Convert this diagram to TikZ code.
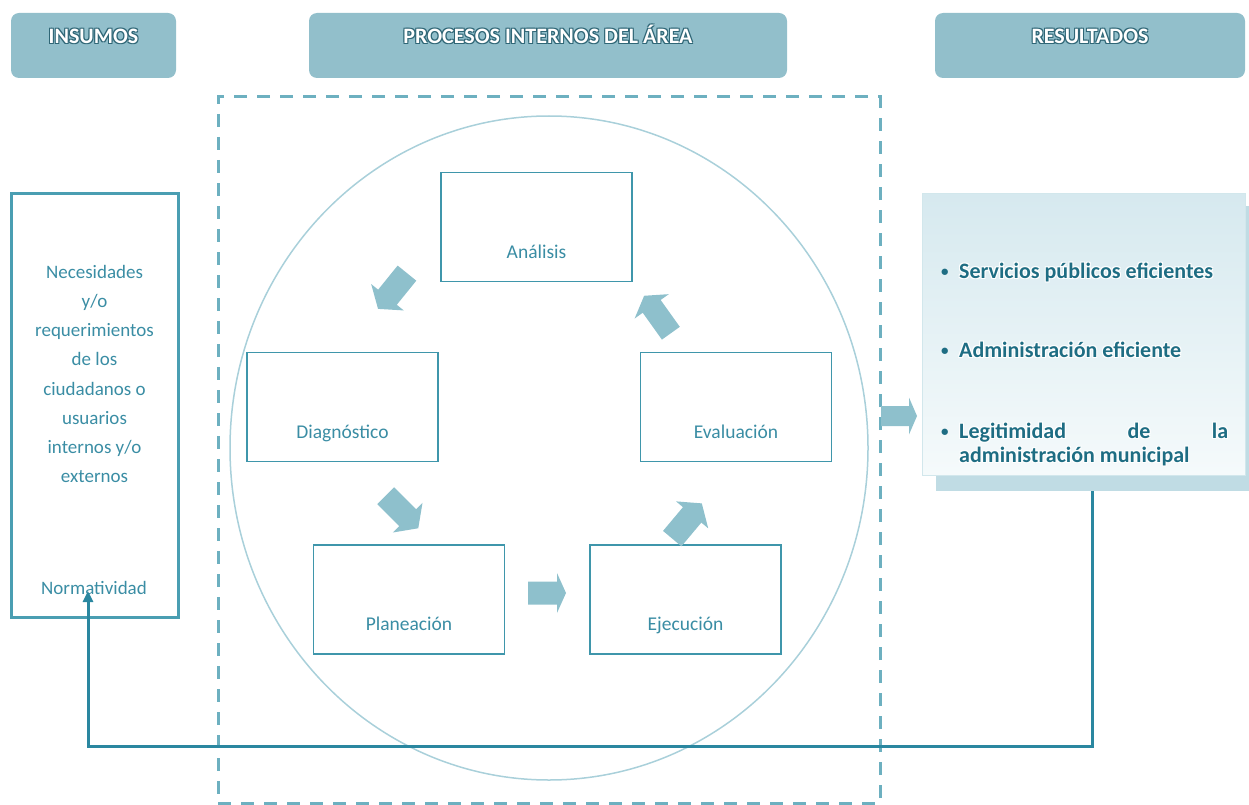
\documentclass[tikz,border=0pt]{standalone}
\usepackage{fontspec}
\setmainfont{Carlito}
\usetikzlibrary{arrows.meta}
\definecolor{hdrfill}{HTML}{92BFCB}
\definecolor{hdrdark}{HTML}{2F6676}
\definecolor{boxline}{HTML}{3F96AB}
\definecolor{txtblue}{HTML}{3A8DA4}
\definecolor{dashcol}{HTML}{6DB0C0}
\definecolor{circcol}{HTML}{A9D0DA}
\definecolor{arrfill}{HTML}{8EC0CC}
\definecolor{conncol}{HTML}{2A87A0}
\definecolor{restop}{HTML}{D6E9EF}
\definecolor{resbot}{HTML}{F5FAFB}
\definecolor{resshad}{HTML}{C0DCE4}
\definecolor{resline}{HTML}{D2E7EC}
\definecolor{restxt}{HTML}{1E6D83}
\definecolor{insline}{HTML}{4A9EB2}
\newcommand\glowtext[3]{\leavevmode\rlap{\color{#1}\kern1pt\raisebox{-1pt}{#3}}\rlap{\color{#1}\kern-1pt\raisebox{1pt}{#3}}\rlap{\color{#1}\kern1pt\raisebox{1pt}{#3}}\rlap{\color{#1}\kern-1pt\raisebox{-1pt}{#3}}{\color{#2}#3}}
\newcommand\resbullet{\raisebox{2pt}{\fontsize{15}{15}\selectfont\textbullet}}
\tikzset{
  hdr/.style={rounded corners=8pt, fill=hdrfill, minimum height=65pt, inner sep=0pt,
    font=\fontsize{22}{26}\selectfont\bfseries},
  procbox/.style={draw=boxline, line width=1.8pt, fill=white, minimum width=191pt,
    minimum height=109pt, inner sep=0pt, font=\fontsize{19.5}{23}\selectfont, text=txtblue},
  intext/.style={inner sep=0pt, font=\fontsize{19}{29.2}\selectfont, text=txtblue, align=center},
  resitem/.style={anchor=base west, inner sep=0pt, font=\fontsize{22}{25}\selectfont\bfseries, text=restxt},
  conn/.style={draw=conncol, line width=3pt, -{Triangle[length=11pt,width=10pt]}},
  pics/barrow/.style n args={4}{code={
    \fill[arrfill] (-#1/2,-#2) -- (#1/2-#4,-#2) -- (#1/2-#4,-#3) -- (#1/2,0)
      -- (#1/2-#4,#3) -- (#1/2-#4,#2) -- (-#1/2,#2) -- cycle;}}
}
\begin{document}
\begin{tikzpicture}[x=1pt,y=-1pt]
\useasboundingbox (0,0) rectangle (1249,805);
% headers
\node[hdr, minimum width=165pt] (hins) at (93.5,45.5)
  {\smash{\raisebox{1.5pt}{\glowtext{hdrdark}{white}{INSUMOS}}}};
\node[hdr, minimum width=478pt] (hproc) at (548,45.5)
  {\smash{\raisebox{1.5pt}{\glowtext{hdrdark}{white}{PROCESOS INTERNOS DEL ÁREA}}}};
\node[hdr, minimum width=310pt] (hres) at (1090,45.5)
  {\smash{\raisebox{1.5pt}{\glowtext{hdrdark}{white}{RESULTADOS}}}};
% process area
\node[draw=dashcol, line width=3pt, dash pattern=on 13pt off 10pt, minimum width=662pt,
  minimum height=706pt, inner sep=0pt] (procarea) at (549,450) {};
\draw[circcol, line width=1.5pt] (549,448) ellipse [x radius=319pt, y radius=332pt];
% process boxes
\node[procbox] (ana) at (536.5,227) {\smash{\raisebox{-31pt}{Análisis}}};
\node[procbox] (diag) at (342.5,407) {\smash{\raisebox{-31pt}{Diagnóstico}}};
\node[procbox] (eval) at (736,407) {\smash{\raisebox{-31pt}{Evaluación}}};
\node[procbox] (plan) at (409,599.5) {\smash{\raisebox{-31pt}{Planeación}}};
\node[procbox] (ejec) at (685.5,599.5) {\smash{\raisebox{-31pt}{Ejecución}}};
% block arrows
\pic[rotate=231] (a1) at (392.5,291) {barrow={46}{12}{21}{15}};
\pic[rotate=-45] (a2) at (402,512) {barrow={46}{12}{21}{15}};
\pic (a3) at (547,593) {barrow={38}{11.5}{20}{9}};
\pic[rotate=50] (a4) at (687,521) {barrow={46}{12}{21}{15}};
\pic[rotate=125.5] (a5) at (657.5,314.5) {barrow={46}{11}{21}{13}};
\pic (a6) at (899,416) {barrow={36}{10}{18.5}{8}};
% insumos
\node[draw=insline, line width=3pt, minimum width=167pt, minimum height=424pt, inner sep=0pt]
  (ins) at (94.5,405) {};
\node[intext] (need) at (94.5,374) {Necesidades\\y/o\\requerimientos\\de los\\ciudadanos o\\usuarios\\internos y/o\\externos};
\node[intext] (norm) at (94,588) {Normatividad};
% resultados
\node[fill=resshad, minimum width=313pt, minimum height=285pt, inner sep=0pt] (resshadow) at (1092.5,348.5) {};
\node[draw=resline, line width=1pt, top color=restop, bottom color=resbot, minimum width=323pt,
  minimum height=282pt, inner sep=0pt] (res) at (1083.5,334) {};
\node[resitem] (r1) at (941,278) {\makebox[18pt][l]{\color{restxt}\resbullet}\glowtext{white}{restxt}{Servicios públicos eficientes}};
\node[resitem] (r2) at (941,357) {\makebox[18pt][l]{\color{restxt}\resbullet}\glowtext{white}{restxt}{Administración eficiente}};
\node[resitem] (r3) at (941,438) {\makebox[18pt][l]{\color{restxt}\resbullet}\glowtext{white}{restxt}{\makebox[269pt][s]{Legitimidad de la}}};
\node[resitem] (r4) at (959,462) {\glowtext{white}{restxt}{administración municipal}};
% feedback connector
\draw[conn] (resshadow.south) -- ++(0,255) -| ([xshift=-6pt,yshift=-3pt]norm.center);
\end{tikzpicture}
\end{document}
